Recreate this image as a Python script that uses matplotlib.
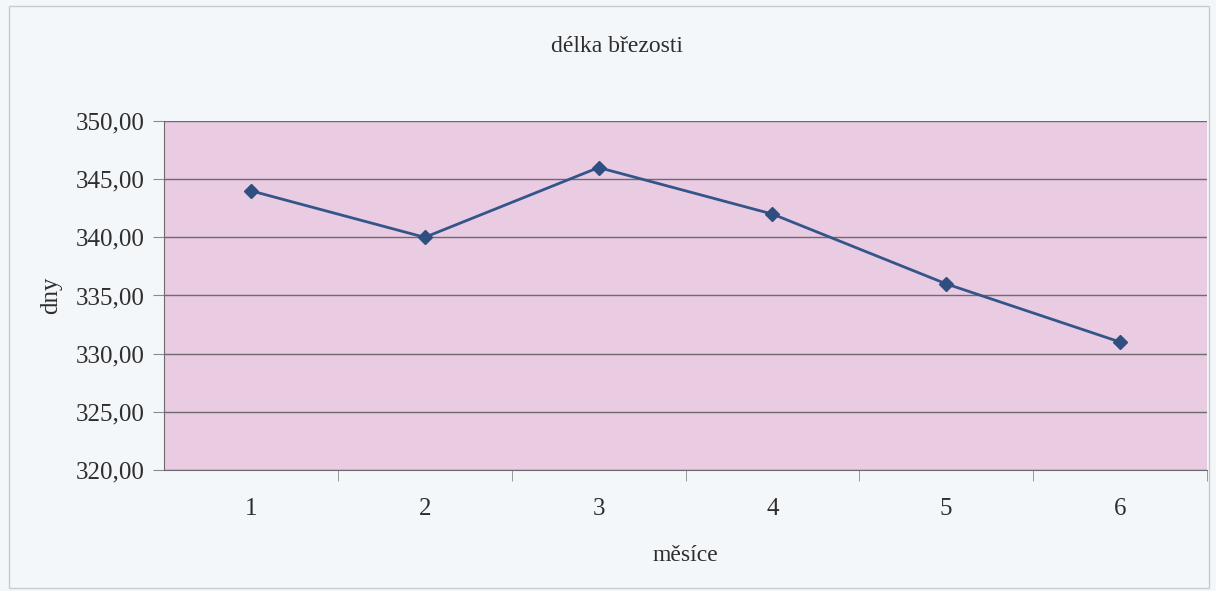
import matplotlib.pyplot as plt
from matplotlib.patches import Rectangle
from matplotlib.ticker import FixedLocator, FuncFormatter

mesice = [1, 2, 3, 4, 5, 6]
dny = [344, 340, 346, 342, 336, 331]
y_ticks = [320, 325, 330, 335, 340, 345, 350]

plt.rcParams['font.family'] = ['Liberation Serif', 'DejaVu Serif']

fig = plt.figure(figsize=(12.16, 5.91), dpi=100, facecolor='#f4f7fa')
fig.patches.append(Rectangle((0.007, 0.005), 0.987, 0.985, transform=fig.transFigure,
                             fill=False, edgecolor='#c8ccd0', linewidth=1))
ax = fig.add_axes([164 / 1216, 1 - 470 / 591, (1207 - 164) / 1216, (470 - 121) / 591])
ax.set_facecolor('#e9cbe2')

ax.plot(mesice, dny, color='#34558a', linewidth=2, marker='D', markersize=7,
        markerfacecolor='#2f4f80', markeredgecolor='#2f4f80', zorder=3)

ax.set_xlim(0.5, 6.5)
ax.set_ylim(320, 350)
ax.set_yticks(y_ticks)
ax.yaxis.set_major_formatter(FuncFormatter(lambda v, p: f'{v:.2f}'.replace('.', ',')))
ax.grid(axis='y', color='#6e6a70', linewidth=1)
ax.set_axisbelow(True)

ax.set_xticks(mesice)
ax.xaxis.set_minor_locator(FixedLocator([1.5, 2.5, 3.5, 4.5, 5.5, 6.5]))
ax.tick_params(axis='x', which='major', length=0, pad=20, labelsize=18, colors='#2e2e2e')
ax.tick_params(axis='x', which='minor', length=8, color='#8a8a8a', direction='out')
ax.tick_params(axis='y', length=8, color='#8a8a8a', labelsize=18, colors='#2e2e2e', pad=6)

for s in ['top', 'right']:
    ax.spines[s].set_visible(False)
ax.spines['left'].set_color('#6e6a70')
ax.spines['bottom'].set_color('#6e6a70')

fig.text(0.507, 1 - 47 / 591, 'délka březosti', fontsize=17, color='#2e2e2e',
         ha='center', va='center')
ax.set_xlabel('měsíce', fontsize=17, color='#2e2e2e', labelpad=18)
ax.set_ylabel('dny', fontsize=18, color='#2e2e2e', labelpad=10)

fig.savefig('out.png', dpi=100, facecolor=fig.get_facecolor())
